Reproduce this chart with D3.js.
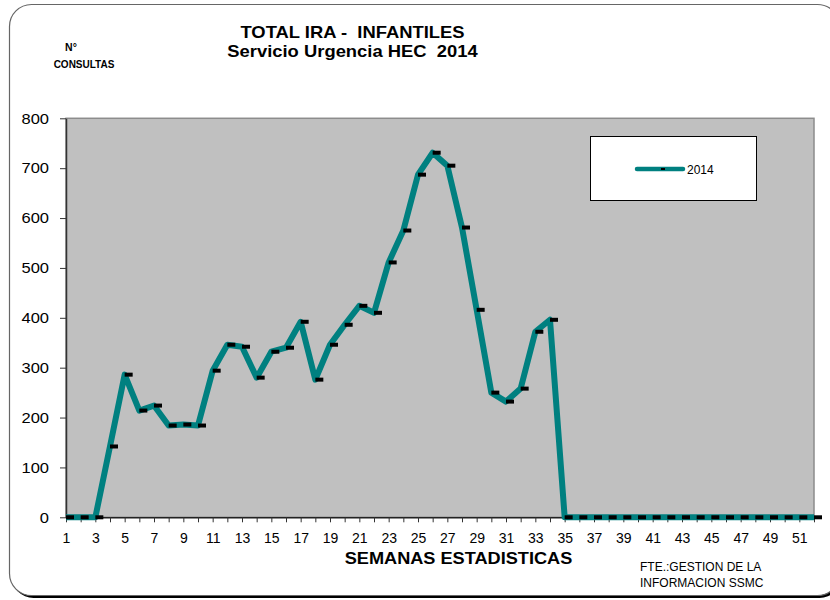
<!DOCTYPE html>
<html>
<head>
<meta charset="utf-8">
<script src="https://cdn.jsdelivr.net/npm/d3@7"></script>
<style>
  html, body { margin: 0; padding: 0; background: #ffffff; overflow: hidden; }
  svg { display: block; font-family: "Liberation Sans", Arial, sans-serif; }
  text { white-space: pre; }
</style>
</head>
<body>
<svg id="chart" width="830" height="600"></svg>
<script>
// Weekly consultation counts, 2014 (statistical weeks 1-52)
const weeks = [1,2,3,4,5,6,7,8,9,10,11,12,13,14,15,16,17,18,19,20,21,22,23,24,25,26,
               27,28,29,30,31,32,33,34,35,36,37,38,39,40,41,42,43,44,45,46,47,48,49,50,51,52];
const consultas2014 = [0,0,0,142,286,214,224,184,186,184,294,346,342,280,332,340,392,276,346,386,
                       424,410,511,575,687,731,705,581,416,250,232,258,372,396,
                       0,0,0,0,0,0,0,0,0,0,0,0,0,0,0,0,0,0];
const yTicks = [0,100,200,300,400,500,600,700,800];
const xLabelWeeks = [1,3,5,7,9,11,13,15,17,19,21,23,25,27,29,31,33,35,37,39,41,43,45,47,49,51];
const seriesName = "2014";
const titleLines = ["TOTAL IRA -  INFANTILES", "Servicio Urgencia HEC  2014"];
const yTitleLines = ["N°", "CONSULTAS"];
const xTitle = "SEMANAS ESTADISTICAS";
const sourceLines = ["FTE.:GESTION DE LA", "INFORMACION SSMC"];

const svg = d3.select("#chart");
const plot = { left: 66, right: 814, top: 118.3, bottom: 517.3 };
const teal = "#008080";

// Outer rounded frame with drop shadow (runs past the right edge)
svg.append("rect")
  .attr("x", 11.5).attr("y", 7).attr("width", 830).attr("height", 591)
  .attr("rx", 22).attr("fill", "#000");
svg.append("rect")
  .attr("x", 9.5).attr("y", 4.5).attr("width", 830).attr("height", 591)
  .attr("rx", 22).attr("fill", "#fff").attr("stroke", "#666").attr("stroke-width", 1.2);

const x = d3.scaleLinear().domain([1, 52]).range([plot.left, plot.right]);
const y = d3.scaleLinear().domain([0, 800]).range([plot.bottom, plot.top]);

// Plot area
svg.append("rect")
  .attr("x", plot.left).attr("y", plot.top)
  .attr("width", plot.right - plot.left).attr("height", plot.bottom - plot.top)
  .attr("fill", "#c0c0c0").attr("stroke", "#8c8c8c").attr("stroke-width", 1.5);

// Y axis (labels slightly widened)
const yAxis = svg.append("g")
  .attr("transform", `translate(${plot.left},0)`)
  .call(d3.axisLeft(y).tickValues(yTicks).tickSize(6).tickPadding(11).tickSizeOuter(0));
yAxis.select(".domain").attr("stroke", "#333").attr("stroke-width", 1.5);
yAxis.selectAll(".tick line").attr("stroke", "#333");
yAxis.selectAll("text").attr("font-size", 15).attr("fill", "#000")
  .attr("font-family", "Liberation Sans, Arial, sans-serif")
  .attr("x", 0)
  .attr("transform", "translate(-17,0) scale(1.1,1)");

// X axis
const xAxis = svg.append("g")
  .attr("transform", `translate(0,${plot.bottom})`)
  .call(d3.axisBottom(x).tickValues(weeks).tickSize(5).tickPadding(11).tickSizeOuter(0)
    .tickFormat(d => xLabelWeeks.includes(d) ? String(d) : ""));
xAxis.select(".domain").attr("stroke", "#222").attr("stroke-width", 1.5);
xAxis.selectAll(".tick line").attr("stroke", "#333");
xAxis.selectAll("text").attr("font-size", 14).attr("fill", "#000")
  .attr("font-family", "Liberation Sans, Arial, sans-serif");

// Series line
const line = d3.line().x((d, i) => x(weeks[i])).y(d => y(d));
svg.append("path")
  .datum(consultas2014)
  .attr("d", line)
  .attr("fill", "none")
  .attr("stroke", teal)
  .attr("stroke-width", 6)
  .attr("stroke-linejoin", "round");

// Dash markers
svg.append("g").selectAll("rect")
  .data(consultas2014)
  .join("rect")
  .attr("x", (d, i) => x(weeks[i]))
  .attr("y", d => y(d) - 2)
  .attr("width", 8)
  .attr("height", 4)
  .attr("fill", "#000");

// Legend
const lg = svg.append("g");
lg.append("rect")
  .attr("x", 590.5).attr("y", 136.5).attr("width", 166).attr("height", 64)
  .attr("fill", "#fff").attr("stroke", "#000").attr("stroke-width", 1);
lg.append("line")
  .attr("x1", 637).attr("x2", 683).attr("y1", 169).attr("y2", 169)
  .attr("stroke", teal).attr("stroke-width", 4.5).attr("stroke-linecap", "round");
lg.append("rect")
  .attr("x", 661).attr("y", 168).attr("width", 4).attr("height", 2).attr("fill", "#000");
lg.append("text")
  .attr("x", 687).attr("y", 173.5).attr("font-size", 12).attr("fill", "#000")
  .text(seriesName);

// Titles (widened bold lettering)
svg.append("g").selectAll("text")
  .data(titleLines)
  .join("text")
  .attr("transform", (d, i) => `translate(352.5,${38 + i * 18.5}) scale(1.115,1)`)
  .attr("text-anchor", "middle").attr("font-size", 16.5).attr("font-weight", "bold")
  .text(d => d);

svg.append("text").attr("x", 71).attr("y", 51)
  .attr("text-anchor", "middle").attr("font-size", 10.5).attr("font-weight", "bold")
  .text(yTitleLines[0]);
svg.append("text").attr("x", 84).attr("y", 68)
  .attr("text-anchor", "middle").attr("font-size", 10).attr("font-weight", "bold")
  .text(yTitleLines[1]);

svg.append("text")
  .attr("transform", "translate(458.5,564) scale(1.135,1)")
  .attr("text-anchor", "middle").attr("font-size", 16).attr("font-weight", "bold")
  .text(xTitle);

svg.append("g").selectAll("text")
  .data(sourceLines)
  .join("text")
  .attr("x", 640).attr("y", (d, i) => 571 + i * 16)
  .attr("font-size", 12).attr("fill", "#000")
  .text(d => d);
</script>
</body>
</html>
